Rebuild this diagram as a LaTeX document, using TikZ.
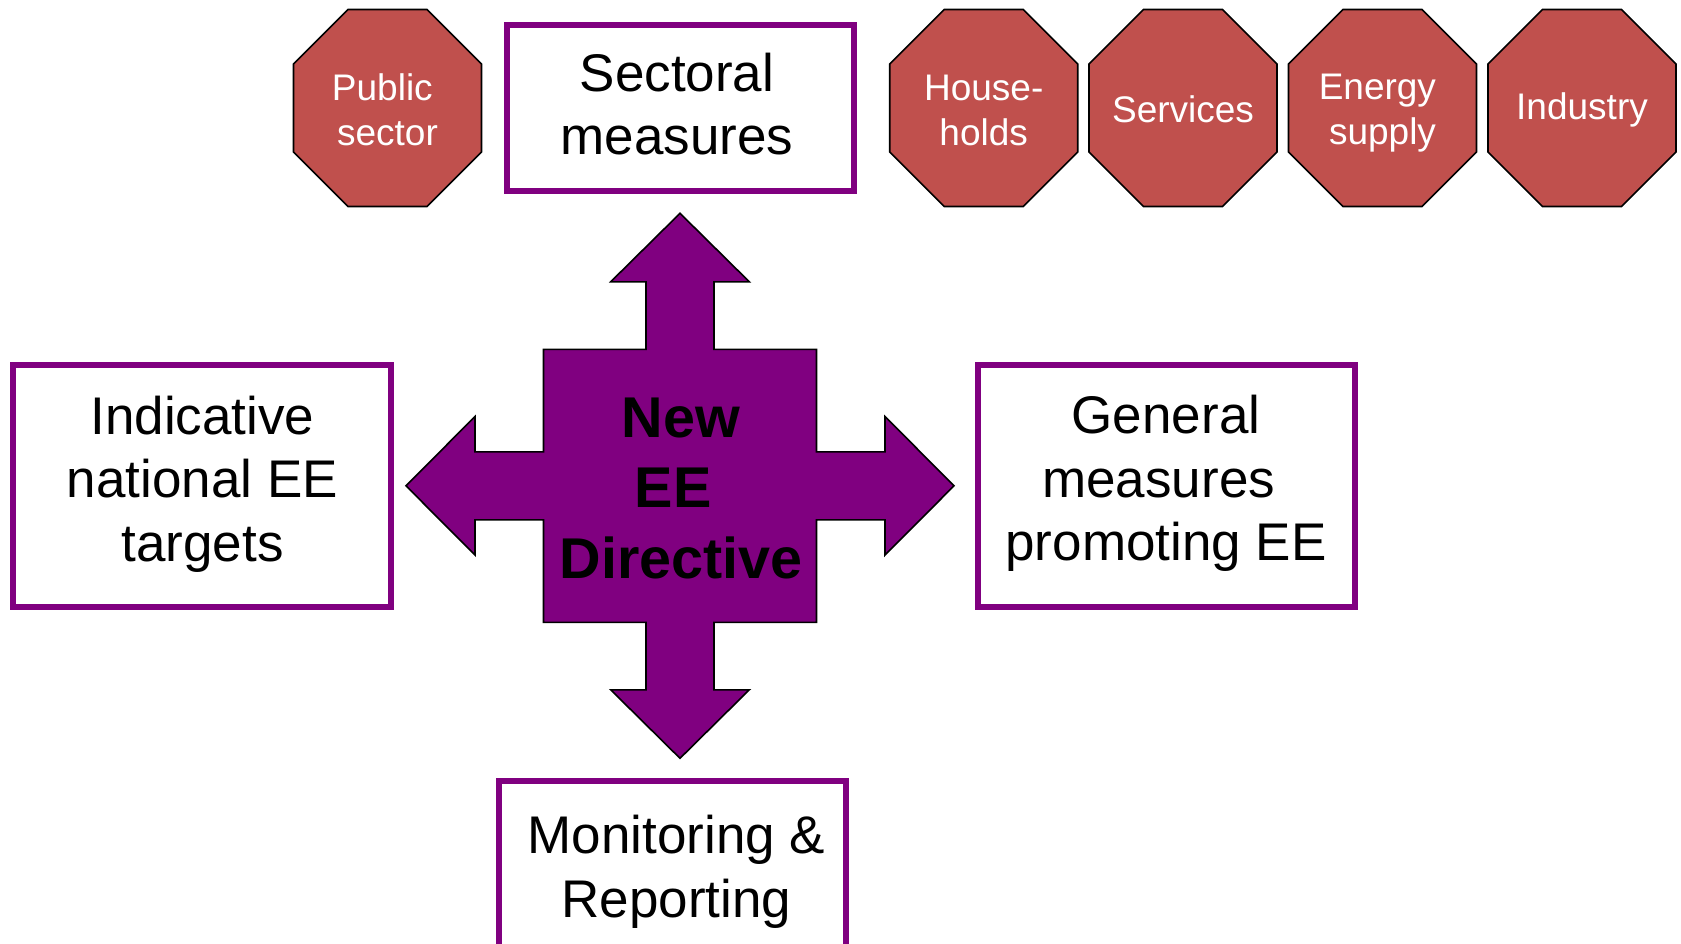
\documentclass[tikz,border=0pt]{standalone}
\usepackage{fontspec}
\setmainfont{Liberation Sans}
\definecolor{octred}{HTML}{C0504D}
\definecolor{eepurple}{HTML}{800080}
\tikzset{
  boxnode/.style={draw=eepurple, line width=6pt, fill=white, inner sep=0pt},
  boxtext/.style={align=center, inner sep=0pt, font=\fontsize{53}{63.5}\selectfont},
  octshape/.style={fill=octred, draw=black, line width=1.6pt, line join=miter},
  octtext/.style={text=white, align=center, inner sep=0pt, font=\fontsize{37}{45}\selectfont},
  crossshape/.style={fill=eepurple, draw=black, line width=1.6pt, line join=miter},
  dirtext/.style={align=center, inner sep=0pt, font=\fontsize{57.5}{70.5}\selectfont\bfseries}
}
\newcommand{\octnode}[4]{%
  \path[octshape] ({#2-39.5},9.5) -- ({#2+39.5},9.5) -- ({#2+94},64) -- ({#2+94},152)
    -- ({#2+39.5},206.5) -- ({#2-39.5},206.5) -- ({#2-94},152) -- ({#2-94},64) -- cycle;
  \node[octtext] (#1) at (#2,#3) {#4};}
\begin{document}
\begin{tikzpicture}[x=1pt,y=-1pt]
\useasboundingbox (0,0) rectangle (1681,944);
\clip (0,0) rectangle (1681,944);

% framed boxes
\node[boxnode, minimum width=347pt, minimum height=165.5pt] (sect) at (680.5,108.25) {};
\node[boxnode, minimum width=378pt, minimum height=242pt] (ind) at (202,486) {};
\node[boxnode, minimum width=377pt, minimum height=242pt] (gen) at (1166.5,486) {};
\node[boxnode, minimum width=347pt, minimum height=165.5pt] (mon) at (672.4,864) {};

\node[boxtext] (sectT) at (677,104.1) {Sectoral\\measures};
\node[boxtext] (indT) at (202.5,483.8) {Indicative\\national EE\\targets};
\node[boxtext] (genT) at (1166,483.3) {General\\measures\ \null\\promoting EE};
\node[boxtext] (monT) at (676.3,872) {Monitoring \&\\Reporting};

% central four-way arrow
\begin{scope}[shift={(680,485.8)}]
\path[crossshape] (0,-272.5) -- (69.3,-204) -- (34,-204) -- (34,-136.5) -- (136.5,-136.5)
  -- (136.5,-34) -- (205,-34) -- (205,-69.3) -- (274,0) -- (205,69.3) -- (205,34)
  -- (136.5,34) -- (136.5,136.5) -- (34,136.5) -- (34,204) -- (69.3,204) -- (0,272.5)
  -- (-69.3,204) -- (-34,204) -- (-34,136.5) -- (-136.5,136.5) -- (-136.5,34) -- (-205,34)
  -- (-205,69.3) -- (-274,0) -- (-205,-69.3) -- (-205,-34) -- (-136.5,-34) -- (-136.5,-136.5)
  -- (-34,-136.5) -- (-34,-204) -- (-69.3,-204) -- cycle;
\end{scope}
\node[dirtext] (dir) at (681,488) {New\\EE\ \null\\Directive};

% sector octagons
\octnode{pub}{387.5}{110.25}{Public\ \null\\sector}
\octnode{hh}{983.7}{110.25}{House-\\holds}
\octnode{serv}{1183}{108.8}{Services}
\octnode{ensup}{1382.5}{113.2}{Energy\ \null\\supply}
\octnode{indus}{1582}{110}{Industry}
\end{tikzpicture}
\end{document}
